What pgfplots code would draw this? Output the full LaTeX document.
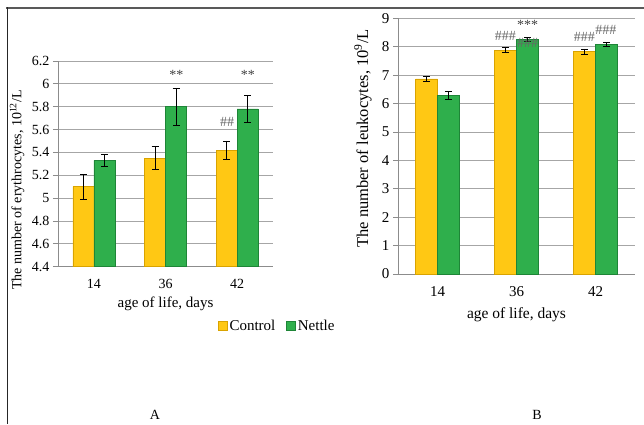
\documentclass[border=0pt]{standalone}
\usepackage{pgfplots}
\pgfplotsset{compat=1.18}
\usepackage{pgfplotstable}
\usepackage{fontspec}
\setmainfont{Liberation Serif}
\definecolor{ctrl}{HTML}{FFC814}
\definecolor{ctrlD}{HTML}{D9A300}
\definecolor{net}{HTML}{2FAF4C}
\definecolor{netD}{HTML}{1E8537}
\definecolor{gridc}{HTML}{A6A6A6}
\definecolor{axc}{HTML}{8C8C8C}
\pgfplotstableread{
x c ce n ne
0 5.10 0.11 5.33 0.05
1 5.35 0.10 5.80 0.16
2 5.42 0.08 5.78 0.12
}\dataA
\pgfplotstableread{
x c ce n ne
0 6.87 0.10 6.28 0.15
1 7.88 0.09 8.25 0.07
2 7.83 0.09 8.08 0.06
}\dataB
\pgfplotsset{
  common/.style={
    scale only axis,
    anchor=south west,
    ybar=0pt,
    xmin=-0.5, xmax=2.5,
    xtick={0,1,2}, xticklabels={14,36,42},
    xtick style={draw=none},
    extra x ticks={-0.5,0.5,1.5,2.5},
    extra x tick labels={},
    extra x tick style={major tick length=5pt, tick align=outside, tick style={draw=axc, line width=0.8pt}, grid=none},
    ytick style={draw=axc, line width=0.8pt},
    major tick length=5pt,
    tick align=outside,
    ymajorgrids,
    major grid style={gridc, line width=0.8pt},
    axis x line*=bottom, axis y line*=left,
    x axis line style={-, axc, line width=0.8pt},
    y axis line style={-, axc, line width=0.8pt},
    /pgf/number format/assume math mode=true,
    tick label style={black},
    label style={black},
    error bars/y dir=both, error bars/y explicit,
    error bars/error bar style={black, line width=1pt},
    error bars/error mark options={rotate=90, black, mark size=3.5pt, line width=0.9pt},
    clip=false,
  },
  cbar/.style={fill=ctrl, draw=ctrlD, line width=0.5pt},
  nbar/.style={fill=net, draw=netD, line width=0.5pt},
}
\begin{document}
\begin{tikzpicture}[x=1pt,y=1pt]
\useasboundingbox (0,0) rectangle (644,424);
\draw[line width=1.5pt, color=black!65] (6,416) -- (644,416);
\draw[line width=1pt, color=black!85] (7,416.5) -- (7,0);
\begin{axis}[common,
  at={(58pt,157.3pt)}, width=215pt, height=205.7pt,
  bar width=21pt,
  ymin=4.4, ymax=6.2,
  ytick={4.4,4.6,4.8,5,5.2,5.4,5.6,5.8,6,6.2},
  yticklabels={4.4,4.6,4.8,5,5.2,5.4,5.6,5.8,6,6.2},
  tick label style={font=\fontsize{14}{16}\selectfont},
  xticklabel style={yshift=-4pt},
  xlabel={age of life, days},
  ylabel={The number of erythrocytes, 10\textsuperscript{12}/L},
  xlabel style={at={(axis description cs:0.5,-0.18)}, anchor=center, font=\fontsize{15}{17}\selectfont},
  ylabel style={at={(axis description cs:-0.19,0.373)}, anchor=center, rotate=0, font=\fontsize{14}{16}\selectfont},
  legend style={at={(axis description cs:1.02,-0.288)}, anchor=center, draw=none, fill=none,
    legend columns=2, font=\fontsize{15}{17}\selectfont,
    /tikz/every even column/.append style={column sep=9pt}},
  legend image code/.code={\fill[#1] (0pt,-4.5pt) rectangle (9pt,4.5pt);},
]
\addplot[cbar] table[x=x, y=c, y error=ce]{\dataA};
\addplot[nbar] table[x=x, y=n, y error=ne]{\dataA};
\legend{Control, Nettle}
\node[font=\fontsize{14}{16}\selectfont, text=black!75] at (axis cs:1.15,6.08) {**};
\node[font=\fontsize{14}{16}\selectfont, text=black!75] at (axis cs:2.15,6.08) {**};
\node[font=\fontsize{14}{16}\selectfont, text=black!60] at (axis cs:1.86,5.67) {\#\#};
\end{axis}
\begin{axis}[common,
  at={(398pt,150pt)}, width=237pt, height=255.7pt,
  bar width=22pt,
  ymin=0, ymax=9,
  ytick={0,1,...,9},
  tick label style={font=\fontsize{15}{17}\selectfont},
  xticklabel style={yshift=-4pt},
  xlabel={age of life, days},
  ylabel={The number of leukocytes, 10\textsuperscript{9}/L},
  xlabel style={at={(axis description cs:0.5,-0.16)}, anchor=center, font=\fontsize{15.5}{17}\selectfont},
  ylabel style={at={(axis description cs:-0.148,0.53)}, anchor=center, rotate=0, font=\fontsize{16.5}{18}\selectfont},
]
\addplot[cbar] table[x=x, y=c, y error=ce]{\dataB};
\addplot[nbar] table[x=x, y=n, y error=ne]{\dataB};
\node[font=\fontsize{14}{16}\selectfont, text=black!75] at (axis cs:1.14,8.78) {***};
\node[font=\fontsize{14}{16}\selectfont, text=black!60] at (axis cs:0.86,8.38) {\#\#\#};
\node[font=\fontsize{14}{16}\selectfont, text=black!60] at (axis cs:1.14,8.12) {\#\#\#};
\node[font=\fontsize{14}{16}\selectfont, text=black!60] at (axis cs:1.86,8.33) {\#\#\#};
\node[font=\fontsize{14}{16}\selectfont, text=black!60] at (axis cs:2.13,8.58) {\#\#\#};
\end{axis}
\node[font=\fontsize{14}{16}\selectfont] at (155,9) {A};
\node[font=\fontsize{14}{16}\selectfont] at (537,9) {B};
\end{tikzpicture}
\end{document}
